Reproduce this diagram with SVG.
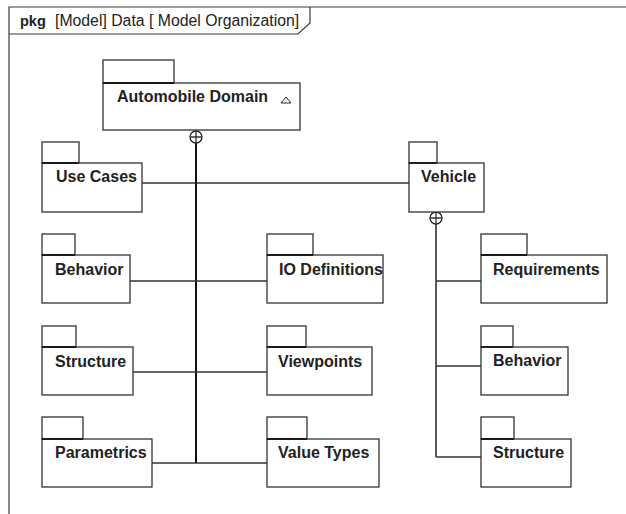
<svg xmlns="http://www.w3.org/2000/svg" width="626" height="514" viewBox="0 0 626 514">
  <style>
    .frame { fill: none; stroke: #3a3a3a; stroke-width: 1.2; }
    .pkg rect { fill: #ffffff; stroke: #333333; stroke-width: 1.3; }
    .pkg .tabline { stroke: #1a1a1a; stroke-width: 1.8; }
    .name { font-family: "Liberation Sans", Arial, sans-serif; font-size: 16px; font-weight: bold; fill: #222222; }
    .hdr { font-family: "Liberation Sans", Arial, sans-serif; font-size: 15.8px; fill: #222222; }
    .link { stroke: #333333; stroke-width: 1.3; fill: none; }
    .spine { stroke: #111111; stroke-width: 2; fill: none; }
    .spine2 { stroke: #222222; stroke-width: 1.5; fill: none; }
    .own { fill: #ffffff; stroke: #222222; stroke-width: 1.3; }
  </style>

  <!-- diagram frame and header tab -->
  <g id="frame">
    <path class="frame" d="M9,514 V7 H626"/>
    <path class="frame" d="M9,34 H298 L310,23 V7"/>
    <text y="26" class="hdr"><tspan x="20" font-weight="bold" font-size="14.5px">pkg</tspan><tspan x="55">[Model] Data [ Model Organization]</tspan></text>
  </g>

  <!-- connectors -->
  <g id="connectors">
    <line class="link" x1="142" y1="183" x2="409" y2="183"/>
    <line class="spine" x1="196" y1="143" x2="196" y2="463"/>
    <line class="link" x1="130" y1="281" x2="267" y2="281"/>
    <line class="link" x1="133" y1="372" x2="267" y2="372"/>
    <line class="link" x1="152" y1="463" x2="267" y2="463"/>
    <line class="spine2" x1="436" y1="224" x2="436" y2="457"/>
    <line class="link" x1="436" y1="281" x2="481" y2="281"/>
    <line class="link" x1="436" y1="366" x2="481" y2="366"/>
    <line class="link" x1="436" y1="457" x2="481" y2="457"/>
    <g id="own-automobile">
      <circle class="own" cx="196" cy="137" r="6"/>
      <path class="link" d="M190,137 H202 M196,131 V143"/>
    </g>
    <g id="own-vehicle">
      <circle class="own" cx="436" cy="218" r="6"/>
      <path class="link" d="M430,218 H442 M436,212 V224"/>
    </g>
  </g>

  <!-- packages -->
  <g id="automobile-domain" class="pkg">
    <rect x="103" y="60" width="71" height="23"/>
    <rect x="103" y="83" width="197" height="47"/>
    <line class="tabline" x1="103" y1="83" x2="174" y2="83"/>
    <text x="117" y="102" class="name">Automobile Domain</text>
    <path d="M286,97 L291,103 H281 Z" fill="none" stroke="#222" stroke-width="1"/>
  </g>

  <g id="use-cases" class="pkg">
    <rect x="42" y="142" width="37" height="21"/>
    <rect x="42" y="163" width="100" height="49"/>
    <line class="tabline" x1="42" y1="163" x2="79" y2="163"/>
    <text x="56" y="182" class="name">Use Cases</text>
  </g>

  <g id="vehicle" class="pkg">
    <rect x="409" y="142" width="28" height="21"/>
    <rect x="409" y="163" width="75" height="49"/>
    <line class="tabline" x1="409" y1="163" x2="437" y2="163"/>
    <text x="421" y="182" class="name">Vehicle</text>
  </g>

  <g id="behavior" class="pkg">
    <rect x="42" y="234" width="33" height="21"/>
    <rect x="42" y="255" width="88" height="48"/>
    <line class="tabline" x1="42" y1="255" x2="75" y2="255"/>
    <text x="55" y="275" class="name">Behavior</text>
  </g>

  <g id="io-definitions" class="pkg">
    <rect x="267" y="234" width="46" height="21"/>
    <rect x="267" y="255" width="116" height="48"/>
    <line class="tabline" x1="267" y1="255" x2="313" y2="255"/>
    <text x="279" y="275" class="name">IO Definitions</text>
  </g>

  <g id="structure" class="pkg">
    <rect x="42" y="326" width="34" height="21"/>
    <rect x="42" y="347" width="91" height="48"/>
    <line class="tabline" x1="42" y1="347" x2="76" y2="347"/>
    <text x="55" y="367" class="name">Structure</text>
  </g>

  <g id="viewpoints" class="pkg">
    <rect x="267" y="326" width="39" height="21"/>
    <rect x="267" y="347" width="105" height="48"/>
    <line class="tabline" x1="267" y1="347" x2="306" y2="347"/>
    <text x="278" y="367" class="name">Viewpoints</text>
  </g>

  <g id="parametrics" class="pkg">
    <rect x="42" y="417" width="41" height="22"/>
    <rect x="42" y="439" width="110" height="48"/>
    <line class="tabline" x1="42" y1="439" x2="83" y2="439"/>
    <text x="55" y="458" class="name">Parametrics</text>
  </g>

  <g id="value-types" class="pkg">
    <rect x="267" y="417" width="40" height="22"/>
    <rect x="267" y="439" width="112" height="48"/>
    <line class="tabline" x1="267" y1="439" x2="307" y2="439"/>
    <text x="278" y="458" class="name">Value Types</text>
  </g>

  <g id="requirements" class="pkg">
    <rect x="481" y="234" width="46" height="21"/>
    <rect x="481" y="255" width="126" height="48"/>
    <line class="tabline" x1="481" y1="255" x2="527" y2="255"/>
    <text x="493" y="275" class="name">Requirements</text>
  </g>

  <g id="vehicle-behavior" class="pkg">
    <rect x="481" y="326" width="32" height="21"/>
    <rect x="481" y="347" width="87" height="48"/>
    <line class="tabline" x1="481" y1="347" x2="513" y2="347"/>
    <text x="493" y="366" class="name">Behavior</text>
  </g>

  <g id="vehicle-structure" class="pkg">
    <rect x="481" y="417" width="33" height="22"/>
    <rect x="481" y="439" width="90" height="48"/>
    <line class="tabline" x1="481" y1="439" x2="514" y2="439"/>
    <text x="493" y="458" class="name">Structure</text>
  </g>
</svg>
